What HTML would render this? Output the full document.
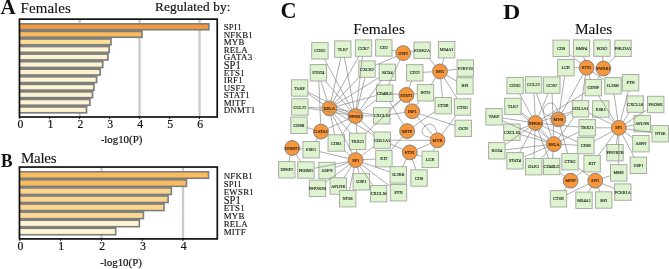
<!DOCTYPE html>
<html><head><meta charset="utf-8"><title>Figure</title>
<style>html,body{margin:0;padding:0;background:#fff}svg{display:block}</style></head>
<body><svg width="669" height="269" viewBox="0 0 669 269">
<rect width="669" height="269" fill="#fff"/>
<rect x="78.44" y="19.15" width="2.4" height="97.85" fill="#cbcbcb"/>
<rect x="138.38" y="19.15" width="2.4" height="97.85" fill="#cbcbcb"/>
<rect x="198.32" y="19.15" width="2.4" height="97.85" fill="#cbcbcb"/>
<rect x="19.45" y="23.00" width="190.21" height="7.55" fill="#7f7f7f"/>
<rect x="19.45" y="29.95" width="123.38" height="1.2" fill="#7f7f7f"/>
<rect x="19.45" y="30.55" width="123.38" height="7.55" fill="#7f7f7f"/>
<rect x="19.45" y="37.51" width="92.39" height="1.2" fill="#7f7f7f"/>
<rect x="19.45" y="38.11" width="92.39" height="7.55" fill="#7f7f7f"/>
<rect x="19.45" y="45.06" width="90.59" height="1.2" fill="#7f7f7f"/>
<rect x="19.45" y="45.66" width="90.59" height="7.55" fill="#7f7f7f"/>
<rect x="19.45" y="52.62" width="89.30" height="1.2" fill="#7f7f7f"/>
<rect x="19.45" y="53.22" width="89.30" height="7.55" fill="#7f7f7f"/>
<rect x="19.45" y="60.17" width="84.12" height="1.2" fill="#7f7f7f"/>
<rect x="19.45" y="60.77" width="84.12" height="7.55" fill="#7f7f7f"/>
<rect x="19.45" y="67.73" width="81.51" height="1.2" fill="#7f7f7f"/>
<rect x="19.45" y="68.33" width="81.51" height="7.55" fill="#7f7f7f"/>
<rect x="19.45" y="75.28" width="78.00" height="1.2" fill="#7f7f7f"/>
<rect x="19.45" y="75.88" width="78.00" height="7.55" fill="#7f7f7f"/>
<rect x="19.45" y="82.84" width="75.28" height="1.2" fill="#7f7f7f"/>
<rect x="19.45" y="83.44" width="75.28" height="7.55" fill="#7f7f7f"/>
<rect x="19.45" y="90.40" width="73.93" height="1.2" fill="#7f7f7f"/>
<rect x="19.45" y="91.00" width="73.93" height="7.55" fill="#7f7f7f"/>
<rect x="19.45" y="97.95" width="71.23" height="1.2" fill="#7f7f7f"/>
<rect x="19.45" y="98.55" width="71.23" height="7.55" fill="#7f7f7f"/>
<rect x="19.45" y="105.50" width="67.93" height="1.2" fill="#7f7f7f"/>
<rect x="19.45" y="106.10" width="67.93" height="7.55" fill="#7f7f7f"/>
<rect x="19.45" y="24.70" width="188.51" height="4.15" fill="#f7993b"/>
<rect x="19.45" y="32.26" width="121.68" height="4.15" fill="#fabb58"/>
<rect x="19.45" y="39.81" width="90.69" height="4.15" fill="#fcde93"/>
<rect x="19.45" y="47.37" width="88.89" height="4.15" fill="#fdf4d1"/>
<rect x="19.45" y="54.92" width="87.60" height="4.15" fill="#fdf4d1"/>
<rect x="19.45" y="62.48" width="82.42" height="4.15" fill="#fdf4d1"/>
<rect x="19.45" y="70.03" width="79.81" height="4.15" fill="#fdf4d1"/>
<rect x="19.45" y="77.58" width="76.30" height="4.15" fill="#fdf4d1"/>
<rect x="19.45" y="85.14" width="73.58" height="4.15" fill="#fdf4d1"/>
<rect x="19.45" y="92.70" width="72.23" height="4.15" fill="#fdf4d1"/>
<rect x="19.45" y="100.25" width="69.53" height="4.15" fill="#fdf4d1"/>
<rect x="19.45" y="107.80" width="66.23" height="4.15" fill="#fdf4d1"/>
<rect x="19.45" y="19.15" width="197.75" height="97.85" fill="none" stroke="#111" stroke-width="1.7"/>
<rect x="19.20" y="117.00" width="1" height="2" fill="#111"/>
<text x="20.40" y="127.80" font-size="11.8" text-anchor="middle" stroke="#111" stroke-width="0.2" font-family="Liberation Serif, serif" fill="#111">0</text>
<rect x="49.17" y="117.00" width="1" height="2" fill="#111"/>
<text x="50.37" y="127.80" font-size="11.8" text-anchor="middle" stroke="#111" stroke-width="0.2" font-family="Liberation Serif, serif" fill="#111">1</text>
<rect x="79.14" y="117.00" width="1" height="2" fill="#111"/>
<text x="80.34" y="127.80" font-size="11.8" text-anchor="middle" stroke="#111" stroke-width="0.2" font-family="Liberation Serif, serif" fill="#111">2</text>
<rect x="109.11" y="117.00" width="1" height="2" fill="#111"/>
<text x="110.31" y="127.80" font-size="11.8" text-anchor="middle" stroke="#111" stroke-width="0.2" font-family="Liberation Serif, serif" fill="#111">3</text>
<rect x="139.08" y="117.00" width="1" height="2" fill="#111"/>
<text x="140.28" y="127.80" font-size="11.8" text-anchor="middle" stroke="#111" stroke-width="0.2" font-family="Liberation Serif, serif" fill="#111">4</text>
<rect x="169.05" y="117.00" width="1" height="2" fill="#111"/>
<text x="170.25" y="127.80" font-size="11.8" text-anchor="middle" stroke="#111" stroke-width="0.2" font-family="Liberation Serif, serif" fill="#111">5</text>
<rect x="199.02" y="117.00" width="1" height="2" fill="#111"/>
<text x="200.22" y="127.80" font-size="11.8" text-anchor="middle" stroke="#111" stroke-width="0.2" font-family="Liberation Serif, serif" fill="#111">6</text>
<text x="223.70" y="30.20" font-size="8.9" letter-spacing="0.25" stroke="#111" stroke-width="0.12" font-family="Liberation Serif, serif" fill="#111">SPI1</text>
<text x="223.70" y="37.75" font-size="8.9" letter-spacing="0.25" stroke="#111" stroke-width="0.12" font-family="Liberation Serif, serif" fill="#111">NFKB1</text>
<text x="223.70" y="45.31" font-size="8.9" letter-spacing="0.25" stroke="#111" stroke-width="0.12" font-family="Liberation Serif, serif" fill="#111">MYB</text>
<text x="223.70" y="52.86" font-size="8.9" letter-spacing="0.25" stroke="#111" stroke-width="0.12" font-family="Liberation Serif, serif" fill="#111">RELA</text>
<text x="223.70" y="60.42" font-size="8.9" letter-spacing="0.25" stroke="#111" stroke-width="0.12" font-family="Liberation Serif, serif" fill="#111">GATA3</text>
<text transform="translate(223.70,68.77) scale(0.86,1)" font-size="12.3" stroke="#111" stroke-width="0.1" font-family="Liberation Serif, serif" fill="#111">SP1</text>
<text x="223.70" y="75.53" font-size="8.9" letter-spacing="0.25" stroke="#111" stroke-width="0.12" font-family="Liberation Serif, serif" fill="#111">ETS1</text>
<text x="223.70" y="83.08" font-size="8.9" letter-spacing="0.25" stroke="#111" stroke-width="0.12" font-family="Liberation Serif, serif" fill="#111">IRF1</text>
<text x="223.70" y="90.64" font-size="8.9" letter-spacing="0.25" stroke="#111" stroke-width="0.12" font-family="Liberation Serif, serif" fill="#111">USF2</text>
<text x="223.70" y="98.20" font-size="8.9" letter-spacing="0.25" stroke="#111" stroke-width="0.12" font-family="Liberation Serif, serif" fill="#111">STAT1</text>
<text x="223.70" y="105.75" font-size="8.9" letter-spacing="0.25" stroke="#111" stroke-width="0.12" font-family="Liberation Serif, serif" fill="#111">MITF</text>
<text x="223.70" y="113.30" font-size="8.9" letter-spacing="0.25" stroke="#111" stroke-width="0.12" font-family="Liberation Serif, serif" fill="#111">DNMT1</text>
<text x="121.50" y="143.30" font-size="10.9" text-anchor="middle" stroke="#111" stroke-width="0.2" font-family="Liberation Serif, serif" fill="#111">-log10(P)</text>
<rect x="100.20" y="167.05" width="2.4" height="71.85" fill="#cbcbcb"/>
<rect x="181.80" y="167.05" width="2.4" height="71.85" fill="#cbcbcb"/>
<rect x="19.45" y="171.00" width="189.85" height="8.07" fill="#7f7f7f"/>
<rect x="19.45" y="178.47" width="167.82" height="1.2" fill="#7f7f7f"/>
<rect x="19.45" y="179.07" width="167.82" height="8.07" fill="#7f7f7f"/>
<rect x="19.45" y="186.54" width="152.72" height="1.2" fill="#7f7f7f"/>
<rect x="19.45" y="187.14" width="152.72" height="8.07" fill="#7f7f7f"/>
<rect x="19.45" y="194.61" width="149.46" height="1.2" fill="#7f7f7f"/>
<rect x="19.45" y="195.21" width="149.46" height="8.07" fill="#7f7f7f"/>
<rect x="19.45" y="202.68" width="145.38" height="1.2" fill="#7f7f7f"/>
<rect x="19.45" y="203.28" width="145.38" height="8.07" fill="#7f7f7f"/>
<rect x="19.45" y="210.75" width="124.77" height="1.2" fill="#7f7f7f"/>
<rect x="19.45" y="211.35" width="124.77" height="8.07" fill="#7f7f7f"/>
<rect x="19.45" y="218.82" width="120.69" height="1.2" fill="#7f7f7f"/>
<rect x="19.45" y="219.42" width="120.69" height="8.07" fill="#7f7f7f"/>
<rect x="19.45" y="226.89" width="97.03" height="1.2" fill="#7f7f7f"/>
<rect x="19.45" y="227.49" width="97.03" height="8.07" fill="#7f7f7f"/>
<rect x="19.45" y="172.60" width="188.25" height="4.87" fill="#fbbb58"/>
<rect x="19.45" y="180.67" width="166.22" height="4.87" fill="#fbbd5f"/>
<rect x="19.45" y="188.74" width="151.12" height="4.87" fill="#fcd68b"/>
<rect x="19.45" y="196.81" width="147.86" height="4.87" fill="#fcd68b"/>
<rect x="19.45" y="204.88" width="143.78" height="4.87" fill="#fcd68b"/>
<rect x="19.45" y="212.95" width="123.17" height="4.87" fill="#fcd993"/>
<rect x="19.45" y="221.02" width="119.09" height="4.87" fill="#fdf4d1"/>
<rect x="19.45" y="229.09" width="95.43" height="4.87" fill="#fdf4d1"/>
<rect x="19.45" y="167.05" width="197.85" height="71.85" fill="none" stroke="#111" stroke-width="1.7"/>
<rect x="19.30" y="238.90" width="1" height="2" fill="#111"/>
<text x="20.50" y="249.90" font-size="11.8" text-anchor="middle" stroke="#111" stroke-width="0.2" font-family="Liberation Serif, serif" fill="#111">0</text>
<rect x="60.10" y="238.90" width="1" height="2" fill="#111"/>
<text x="61.30" y="249.90" font-size="11.8" text-anchor="middle" stroke="#111" stroke-width="0.2" font-family="Liberation Serif, serif" fill="#111">1</text>
<rect x="100.90" y="238.90" width="1" height="2" fill="#111"/>
<text x="102.10" y="249.90" font-size="11.8" text-anchor="middle" stroke="#111" stroke-width="0.2" font-family="Liberation Serif, serif" fill="#111">2</text>
<rect x="141.70" y="238.90" width="1" height="2" fill="#111"/>
<text x="142.90" y="249.90" font-size="11.8" text-anchor="middle" stroke="#111" stroke-width="0.2" font-family="Liberation Serif, serif" fill="#111">3</text>
<rect x="182.50" y="238.90" width="1" height="2" fill="#111"/>
<text x="183.70" y="249.90" font-size="11.8" text-anchor="middle" stroke="#111" stroke-width="0.2" font-family="Liberation Serif, serif" fill="#111">4</text>
<text x="223.70" y="178.60" font-size="8.9" letter-spacing="0.25" stroke="#111" stroke-width="0.12" font-family="Liberation Serif, serif" fill="#111">NFKB1</text>
<text x="223.70" y="186.67" font-size="8.9" letter-spacing="0.25" stroke="#111" stroke-width="0.12" font-family="Liberation Serif, serif" fill="#111">SPI1</text>
<text x="223.70" y="194.74" font-size="8.9" letter-spacing="0.25" stroke="#111" stroke-width="0.12" font-family="Liberation Serif, serif" fill="#111">EWSR1</text>
<text transform="translate(223.70,203.61) scale(0.86,1)" font-size="12.3" stroke="#111" stroke-width="0.1" font-family="Liberation Serif, serif" fill="#111">SP1</text>
<text x="223.70" y="210.88" font-size="8.9" letter-spacing="0.25" stroke="#111" stroke-width="0.12" font-family="Liberation Serif, serif" fill="#111">ETS1</text>
<text x="223.70" y="218.95" font-size="8.9" letter-spacing="0.25" stroke="#111" stroke-width="0.12" font-family="Liberation Serif, serif" fill="#111">MYB</text>
<text x="223.70" y="227.02" font-size="8.9" letter-spacing="0.25" stroke="#111" stroke-width="0.12" font-family="Liberation Serif, serif" fill="#111">RELA</text>
<text x="223.70" y="235.09" font-size="8.9" letter-spacing="0.25" stroke="#111" stroke-width="0.12" font-family="Liberation Serif, serif" fill="#111">MITF</text>
<text x="121.00" y="266.00" font-size="10.9" text-anchor="middle" stroke="#111" stroke-width="0.2" font-family="Liberation Serif, serif" fill="#111">-log10(P)</text>
<text x="0.6" y="14.2" font-size="21" font-weight="bold" font-family="Liberation Serif, serif" fill="#111">A</text>
<text x="20.6" y="12.8" font-size="15.0" letter-spacing="0.05" stroke="#111" stroke-width="0.1" font-family="Liberation Serif, serif" fill="#111">Females</text>
<text x="155.0" y="11.2" font-size="13.3" letter-spacing="0.1" stroke="#111" stroke-width="0.2" font-family="Liberation Serif, serif" fill="#111">Regulated by:</text>
<text transform="translate(1.0,166.8) scale(0.94,1)" font-size="18.4" font-weight="bold" font-family="Liberation Serif, serif" fill="#111">B</text>
<text x="20.9" y="162.5" font-size="15.0" letter-spacing="-0.25" stroke="#111" stroke-width="0.1" font-family="Liberation Serif, serif" fill="#111">Males</text>
<text transform="translate(280.5,17.8) scale(0.97,1)" font-size="23.0" font-weight="bold" font-family="Liberation Serif, serif" fill="#111">C</text>
<text transform="translate(502.9,18.9) scale(1.09,1)" font-size="22.0" font-weight="bold" font-family="Liberation Serif, serif" fill="#111">D</text>
<text x="353.3" y="33.5" font-size="15.4" letter-spacing="0.05" stroke="#111" stroke-width="0.1" font-family="Liberation Serif, serif" fill="#111">Females</text>
<text x="574.9" y="33.5" font-size="15.4" letter-spacing="-0.05" stroke="#111" stroke-width="0.1" font-family="Liberation Serif, serif" fill="#111">Males</text>
<rect x="311.70" y="42.60" width="16.40" height="16.40" fill="#ddf4cf" stroke="#a5a9a2" stroke-width="0.95"/>
<rect x="334.60" y="40.90" width="16.40" height="16.40" fill="#ddf4cf" stroke="#a5a9a2" stroke-width="0.95"/>
<rect x="355.30" y="39.90" width="16.40" height="16.40" fill="#ddf4cf" stroke="#a5a9a2" stroke-width="0.95"/>
<rect x="375.60" y="39.70" width="16.40" height="16.40" fill="#ddf4cf" stroke="#a5a9a2" stroke-width="0.95"/>
<rect x="413.90" y="42.10" width="16.40" height="16.40" fill="#ddf4cf" stroke="#a5a9a2" stroke-width="0.95"/>
<rect x="438.40" y="41.50" width="16.40" height="16.40" fill="#ddf4cf" stroke="#a5a9a2" stroke-width="0.95"/>
<rect x="457.10" y="59.90" width="16.40" height="16.40" fill="#ddf4cf" stroke="#a5a9a2" stroke-width="0.95"/>
<rect x="310.20" y="64.60" width="16.40" height="16.40" fill="#ddf4cf" stroke="#a5a9a2" stroke-width="0.95"/>
<rect x="358.80" y="60.90" width="16.40" height="16.40" fill="#ddf4cf" stroke="#a5a9a2" stroke-width="0.95"/>
<rect x="379.20" y="64.10" width="16.40" height="16.40" fill="#ddf4cf" stroke="#a5a9a2" stroke-width="0.95"/>
<rect x="406.60" y="64.60" width="16.40" height="16.40" fill="#ddf4cf" stroke="#a5a9a2" stroke-width="0.95"/>
<rect x="456.70" y="77.70" width="16.40" height="16.40" fill="#ddf4cf" stroke="#a5a9a2" stroke-width="0.95"/>
<rect x="291.40" y="79.80" width="16.40" height="16.40" fill="#ddf4cf" stroke="#a5a9a2" stroke-width="0.95"/>
<rect x="376.50" y="85.00" width="16.40" height="16.40" fill="#ddf4cf" stroke="#a5a9a2" stroke-width="0.95"/>
<rect x="417.30" y="84.60" width="16.40" height="16.40" fill="#ddf4cf" stroke="#a5a9a2" stroke-width="0.95"/>
<rect x="435.00" y="97.50" width="16.40" height="16.40" fill="#ddf4cf" stroke="#a5a9a2" stroke-width="0.95"/>
<rect x="454.30" y="98.80" width="16.40" height="16.40" fill="#ddf4cf" stroke="#a5a9a2" stroke-width="0.95"/>
<rect x="291.70" y="98.80" width="16.40" height="16.40" fill="#ddf4cf" stroke="#a5a9a2" stroke-width="0.95"/>
<rect x="373.60" y="107.60" width="16.40" height="16.40" fill="#ddf4cf" stroke="#a5a9a2" stroke-width="0.95"/>
<rect x="290.80" y="117.10" width="16.40" height="16.40" fill="#ddf4cf" stroke="#a5a9a2" stroke-width="0.95"/>
<rect x="455.00" y="120.20" width="16.40" height="16.40" fill="#ddf4cf" stroke="#a5a9a2" stroke-width="0.95"/>
<rect x="374.00" y="132.00" width="16.40" height="16.40" fill="#ddf4cf" stroke="#a5a9a2" stroke-width="0.95"/>
<rect x="349.40" y="133.20" width="16.40" height="16.40" fill="#ddf4cf" stroke="#a5a9a2" stroke-width="0.95"/>
<rect x="328.00" y="134.80" width="16.40" height="16.40" fill="#ddf4cf" stroke="#a5a9a2" stroke-width="0.95"/>
<rect x="302.90" y="141.50" width="16.40" height="16.40" fill="#ddf4cf" stroke="#a5a9a2" stroke-width="0.95"/>
<rect x="375.70" y="150.50" width="16.40" height="16.40" fill="#ddf4cf" stroke="#a5a9a2" stroke-width="0.95"/>
<rect x="422.10" y="151.20" width="16.40" height="16.40" fill="#ddf4cf" stroke="#a5a9a2" stroke-width="0.95"/>
<rect x="278.60" y="161.60" width="16.40" height="16.40" fill="#ddf4cf" stroke="#a5a9a2" stroke-width="0.95"/>
<rect x="297.70" y="161.80" width="16.40" height="16.40" fill="#ddf4cf" stroke="#a5a9a2" stroke-width="0.95"/>
<rect x="318.80" y="162.30" width="16.40" height="16.40" fill="#ddf4cf" stroke="#a5a9a2" stroke-width="0.95"/>
<rect x="390.10" y="166.70" width="16.40" height="16.40" fill="#ddf4cf" stroke="#a5a9a2" stroke-width="0.95"/>
<rect x="410.80" y="169.80" width="16.40" height="16.40" fill="#ddf4cf" stroke="#a5a9a2" stroke-width="0.95"/>
<rect x="353.10" y="173.60" width="16.40" height="16.40" fill="#ddf4cf" stroke="#a5a9a2" stroke-width="0.95"/>
<rect x="330.10" y="177.80" width="16.40" height="16.40" fill="#ddf4cf" stroke="#a5a9a2" stroke-width="0.95"/>
<rect x="309.30" y="180.10" width="16.40" height="16.40" fill="#ddf4cf" stroke="#a5a9a2" stroke-width="0.95"/>
<rect x="390.30" y="184.50" width="16.40" height="16.40" fill="#ddf4cf" stroke="#a5a9a2" stroke-width="0.95"/>
<rect x="370.40" y="185.50" width="16.40" height="16.40" fill="#ddf4cf" stroke="#a5a9a2" stroke-width="0.95"/>
<rect x="339.50" y="190.50" width="16.40" height="16.40" fill="#ddf4cf" stroke="#a5a9a2" stroke-width="0.95"/>
<circle cx="403.20" cy="53.10" r="7.40" fill="#f7963a" stroke="#878380" stroke-width="1.0"/>
<circle cx="440.00" cy="71.40" r="7.40" fill="#f7963a" stroke="#878380" stroke-width="1.0"/>
<circle cx="406.40" cy="95.00" r="7.40" fill="#f7963a" stroke="#878380" stroke-width="1.0"/>
<circle cx="329.40" cy="108.30" r="7.40" fill="#f7963a" stroke="#878380" stroke-width="1.0"/>
<circle cx="355.50" cy="116.00" r="7.40" fill="#f7963a" stroke="#878380" stroke-width="1.0"/>
<circle cx="412.20" cy="111.30" r="7.40" fill="#f7963a" stroke="#878380" stroke-width="1.0"/>
<circle cx="321.00" cy="131.60" r="7.40" fill="#f7963a" stroke="#878380" stroke-width="1.0"/>
<circle cx="407.10" cy="131.10" r="7.40" fill="#f7963a" stroke="#878380" stroke-width="1.0"/>
<circle cx="437.50" cy="140.40" r="7.40" fill="#f7963a" stroke="#878380" stroke-width="1.0"/>
<circle cx="292.20" cy="148.00" r="7.40" fill="#f7963a" stroke="#878380" stroke-width="1.0"/>
<circle cx="409.80" cy="152.40" r="7.40" fill="#f7963a" stroke="#878380" stroke-width="1.0"/>
<circle cx="355.60" cy="160.10" r="7.40" fill="#f7963a" stroke="#878380" stroke-width="1.0"/>
<path d="M322.1 108.0L308.2 107.4M323.4 104.2L307.9 93.7M327.2 101.3L321.0 81.1M331.0 101.2L340.9 57.4M333.0 101.9L358.8 56.4M334.5 103.0L359.0 77.4M335.6 104.5L379.1 77.5M336.4 106.4L376.4 95.5M336.6 109.3L373.5 114.6M330.8 115.5L334.6 134.7M334.1 113.9L350.5 133.1M335.6 112.1L373.9 135.2M332.7 114.8L352.3 153.6M336.4 110.4L348.5 113.9M348.3 114.8L308.2 108.3M349.0 112.7L307.9 92.2M350.7 110.5L325.5 81.1M352.0 109.6L324.4 59.1M354.1 108.8L344.4 57.4M356.4 108.8L362.5 56.4M357.2 108.9L365.0 77.4M359.8 110.1L381.3 80.6M361.3 111.5L376.4 99.7M362.8 115.9L373.5 115.9M351.3 121.9L342.1 134.7M356.1 123.3L356.9 133.1M360.9 120.9L373.9 132.7M348.8 119.0L327.7 128.6M320.7 124.3L318.8 81.1M314.0 129.6L307.3 127.7M317.5 138.0L315.6 141.4M299.5 148.7L302.8 149.0M290.4 155.1L288.9 161.5M296.1 154.2L300.7 161.7M348.5 158.4L319.4 151.6M350.1 155.3L344.5 150.3M356.4 152.8L356.7 149.7M348.4 161.5L314.2 168.3M348.7 162.6L335.3 167.5M349.7 164.4L325.8 182.2M351.5 166.2L343.8 177.7M354.1 167.3L349.4 190.4M357.5 167.2L359.1 173.5M359.7 166.1L372.9 185.4M361.4 164.5L390.2 186.4M362.5 162.5L390.0 172.0M362.9 159.7L375.6 159.1M361.4 155.7L373.9 146.4M435.3 65.8L429.1 58.6M442.1 64.4L444.1 58.0M447.2 70.5L457.0 69.2M432.7 71.8L423.1 72.3M446.3 75.1L456.6 81.1M443.9 77.6L457.3 98.7M440.7 78.7L442.4 97.4M435.9 77.4L431.1 84.5M409.0 88.2L411.7 81.1M413.7 94.2L417.2 93.8M399.1 94.4L393.0 93.9M400.8 99.7L390.1 108.8M401.1 100.0L365.9 133.5M408.8 101.9L409.8 104.4M416.5 105.4L419.5 101.1M405.0 112.4L390.1 114.6M419.1 113.6L454.9 125.6M417.0 116.8L432.7 134.9M413.1 126.9L434.9 111.5M402.4 136.7L390.9 150.4M403.4 124.8L389.6 101.5M441.9 134.6L456.3 115.3M430.2 140.4L390.5 140.2M430.8 143.3L416.5 149.5M434.9 147.2L433.4 151.1M416.7 154.8L422.0 156.6M403.1 149.4L390.5 143.9M406.5 158.9L402.5 166.6M412.3 159.3L416.0 169.7M396.1 51.2L392.1 50.1M410.4 52.0L413.8 51.5M396.5 56.1L375.3 65.4M400.1 59.7L388.5 84.9M430.9 137.4C409.5 135.4 433.5 111.4 436.7 133.1" fill="none" stroke="#8e8e8e" stroke-width="0.9" stroke-opacity="0.82"/>
<text x="319.90" y="52.30" font-size="4.3" text-anchor="middle" stroke="#111" stroke-width="0.1" font-family="Liberation Serif, serif" fill="#111">CD3G</text>
<text x="342.80" y="50.60" font-size="4.3" text-anchor="middle" stroke="#111" stroke-width="0.1" font-family="Liberation Serif, serif" fill="#111">TLR7</text>
<text x="363.50" y="49.60" font-size="4.3" text-anchor="middle" stroke="#111" stroke-width="0.1" font-family="Liberation Serif, serif" fill="#111">CCR7</text>
<text x="383.80" y="49.40" font-size="4.3" text-anchor="middle" stroke="#111" stroke-width="0.1" font-family="Liberation Serif, serif" fill="#111">CD2</text>
<text x="422.10" y="51.80" font-size="4.3" text-anchor="middle" stroke="#111" stroke-width="0.1" font-family="Liberation Serif, serif" fill="#111">FCER1A</text>
<text x="446.60" y="51.20" font-size="4.3" text-anchor="middle" stroke="#111" stroke-width="0.1" font-family="Liberation Serif, serif" fill="#111">MS4A1</text>
<text x="465.30" y="69.60" font-size="4.3" text-anchor="middle" stroke="#111" stroke-width="0.1" font-family="Liberation Serif, serif" fill="#111">P2RY10</text>
<text x="318.40" y="74.30" font-size="4.3" text-anchor="middle" stroke="#111" stroke-width="0.1" font-family="Liberation Serif, serif" fill="#111">STAT4</text>
<text x="367.00" y="70.60" font-size="4.3" text-anchor="middle" stroke="#111" stroke-width="0.1" font-family="Liberation Serif, serif" fill="#111">CXCR2</text>
<text x="387.40" y="73.80" font-size="4.3" text-anchor="middle" stroke="#111" stroke-width="0.1" font-family="Liberation Serif, serif" fill="#111">RGS4</text>
<text x="414.80" y="74.30" font-size="4.3" text-anchor="middle" stroke="#111" stroke-width="0.1" font-family="Liberation Serif, serif" fill="#111">CD22</text>
<text x="464.90" y="87.40" font-size="4.3" text-anchor="middle" stroke="#111" stroke-width="0.1" font-family="Liberation Serif, serif" fill="#111">BPI</text>
<text x="299.60" y="89.50" font-size="4.3" text-anchor="middle" stroke="#111" stroke-width="0.1" font-family="Liberation Serif, serif" fill="#111">TARP</text>
<text x="384.70" y="94.70" font-size="4.3" text-anchor="middle" stroke="#111" stroke-width="0.1" font-family="Liberation Serif, serif" fill="#111">CD40LG</text>
<text x="425.50" y="94.30" font-size="4.3" text-anchor="middle" stroke="#111" stroke-width="0.1" font-family="Liberation Serif, serif" fill="#111">IFIT3</text>
<text x="443.20" y="107.20" font-size="4.3" text-anchor="middle" stroke="#111" stroke-width="0.1" font-family="Liberation Serif, serif" fill="#111">CTSK</text>
<text x="462.50" y="108.50" font-size="4.3" text-anchor="middle" stroke="#111" stroke-width="0.1" font-family="Liberation Serif, serif" fill="#111">CTSG</text>
<text x="299.90" y="108.50" font-size="4.3" text-anchor="middle" stroke="#111" stroke-width="0.1" font-family="Liberation Serif, serif" fill="#111">CCL22</text>
<text x="381.80" y="117.30" font-size="4.3" text-anchor="middle" stroke="#111" stroke-width="0.1" font-family="Liberation Serif, serif" fill="#111">CXCL10</text>
<text x="299.00" y="126.80" font-size="4.3" text-anchor="middle" stroke="#111" stroke-width="0.1" font-family="Liberation Serif, serif" fill="#111">CD8B</text>
<text x="463.20" y="129.90" font-size="4.3" text-anchor="middle" stroke="#111" stroke-width="0.1" font-family="Liberation Serif, serif" fill="#111">OGN</text>
<text x="382.20" y="141.70" font-size="4.3" text-anchor="middle" stroke="#111" stroke-width="0.1" font-family="Liberation Serif, serif" fill="#111">COL1A1</text>
<text x="357.60" y="142.90" font-size="4.3" text-anchor="middle" stroke="#111" stroke-width="0.1" font-family="Liberation Serif, serif" fill="#111">TBX21</text>
<text x="336.20" y="144.50" font-size="4.3" text-anchor="middle" stroke="#111" stroke-width="0.1" font-family="Liberation Serif, serif" fill="#111">CD83</text>
<text x="311.10" y="151.20" font-size="4.3" text-anchor="middle" stroke="#111" stroke-width="0.1" font-family="Liberation Serif, serif" fill="#111">ESR1</text>
<text x="383.90" y="160.20" font-size="4.3" text-anchor="middle" stroke="#111" stroke-width="0.1" font-family="Liberation Serif, serif" fill="#111">KIT</text>
<text x="430.30" y="160.90" font-size="4.3" text-anchor="middle" stroke="#111" stroke-width="0.1" font-family="Liberation Serif, serif" fill="#111">LCK</text>
<text x="286.80" y="171.30" font-size="4.3" text-anchor="middle" stroke="#111" stroke-width="0.1" font-family="Liberation Serif, serif" fill="#111">DPEP2</text>
<text x="305.90" y="171.50" font-size="4.3" text-anchor="middle" stroke="#111" stroke-width="0.1" font-family="Liberation Serif, serif" fill="#111">PROM1</text>
<text x="327.00" y="172.00" font-size="4.3" text-anchor="middle" stroke="#111" stroke-width="0.1" font-family="Liberation Serif, serif" fill="#111">ASPN</text>
<text x="398.30" y="176.40" font-size="4.3" text-anchor="middle" stroke="#111" stroke-width="0.1" font-family="Liberation Serif, serif" fill="#111">IL2RB</text>
<text x="419.00" y="179.50" font-size="4.3" text-anchor="middle" stroke="#111" stroke-width="0.1" font-family="Liberation Serif, serif" fill="#111">CD6</text>
<text x="361.30" y="183.30" font-size="4.3" text-anchor="middle" stroke="#111" stroke-width="0.1" font-family="Liberation Serif, serif" fill="#111">USP1</text>
<text x="338.30" y="187.50" font-size="4.3" text-anchor="middle" stroke="#111" stroke-width="0.1" font-family="Liberation Serif, serif" fill="#111">APLNR</text>
<text x="317.50" y="189.80" font-size="4.3" text-anchor="middle" stroke="#111" stroke-width="0.1" font-family="Liberation Serif, serif" fill="#111">PPP2R2B</text>
<text x="398.50" y="194.20" font-size="4.3" text-anchor="middle" stroke="#111" stroke-width="0.1" font-family="Liberation Serif, serif" fill="#111">PTN</text>
<text x="378.60" y="195.20" font-size="4.3" text-anchor="middle" stroke="#111" stroke-width="0.1" font-family="Liberation Serif, serif" fill="#111">CXCL16</text>
<text x="347.70" y="200.20" font-size="4.3" text-anchor="middle" stroke="#111" stroke-width="0.1" font-family="Liberation Serif, serif" fill="#111">NT5E</text>
<text x="403.20" y="54.60" font-size="4.3" text-anchor="middle" stroke="#111" stroke-width="0.1" font-family="Liberation Serif, serif" fill="#111">USF2</text>
<text x="440.00" y="72.90" font-size="4.3" text-anchor="middle" stroke="#111" stroke-width="0.1" font-family="Liberation Serif, serif" fill="#111">SPI1</text>
<text x="406.40" y="96.50" font-size="4.3" text-anchor="middle" stroke="#111" stroke-width="0.1" font-family="Liberation Serif, serif" fill="#111">STAT1</text>
<text x="329.40" y="109.80" font-size="4.3" text-anchor="middle" stroke="#111" stroke-width="0.1" font-family="Liberation Serif, serif" fill="#111">RELA</text>
<text x="355.50" y="117.50" font-size="4.3" text-anchor="middle" stroke="#111" stroke-width="0.1" font-family="Liberation Serif, serif" fill="#111">NFKB1</text>
<text x="412.20" y="112.80" font-size="4.3" text-anchor="middle" stroke="#111" stroke-width="0.1" font-family="Liberation Serif, serif" fill="#111">IRF1</text>
<text x="321.00" y="133.10" font-size="4.3" text-anchor="middle" stroke="#111" stroke-width="0.1" font-family="Liberation Serif, serif" fill="#111">GATA3</text>
<text x="407.10" y="132.60" font-size="4.3" text-anchor="middle" stroke="#111" stroke-width="0.1" font-family="Liberation Serif, serif" fill="#111">MITF</text>
<text x="437.50" y="141.90" font-size="4.3" text-anchor="middle" stroke="#111" stroke-width="0.1" font-family="Liberation Serif, serif" fill="#111">MYB</text>
<text x="292.20" y="149.50" font-size="4.3" text-anchor="middle" stroke="#111" stroke-width="0.1" font-family="Liberation Serif, serif" fill="#111">DNMT1</text>
<text x="409.80" y="153.90" font-size="4.3" text-anchor="middle" stroke="#111" stroke-width="0.1" font-family="Liberation Serif, serif" fill="#111">ETS1</text>
<text x="355.60" y="161.60" font-size="4.3" text-anchor="middle" stroke="#111" stroke-width="0.1" font-family="Liberation Serif, serif" fill="#111">SP1</text>
<rect x="553.00" y="40.10" width="16.40" height="16.40" fill="#ddf4cf" stroke="#a5a9a2" stroke-width="0.95"/>
<rect x="573.30" y="39.90" width="16.40" height="16.40" fill="#ddf4cf" stroke="#a5a9a2" stroke-width="0.95"/>
<rect x="593.80" y="39.90" width="16.40" height="16.40" fill="#ddf4cf" stroke="#a5a9a2" stroke-width="0.95"/>
<rect x="614.80" y="40.20" width="16.40" height="16.40" fill="#ddf4cf" stroke="#a5a9a2" stroke-width="0.95"/>
<rect x="557.70" y="59.50" width="16.40" height="16.40" fill="#ddf4cf" stroke="#a5a9a2" stroke-width="0.95"/>
<rect x="506.90" y="77.40" width="16.40" height="16.40" fill="#ddf4cf" stroke="#a5a9a2" stroke-width="0.95"/>
<rect x="525.40" y="76.70" width="16.40" height="16.40" fill="#ddf4cf" stroke="#a5a9a2" stroke-width="0.95"/>
<rect x="543.60" y="76.90" width="16.40" height="16.40" fill="#ddf4cf" stroke="#a5a9a2" stroke-width="0.95"/>
<rect x="585.10" y="79.40" width="16.40" height="16.40" fill="#ddf4cf" stroke="#a5a9a2" stroke-width="0.95"/>
<rect x="604.80" y="77.60" width="16.40" height="16.40" fill="#ddf4cf" stroke="#a5a9a2" stroke-width="0.95"/>
<rect x="622.40" y="74.50" width="16.40" height="16.40" fill="#ddf4cf" stroke="#a5a9a2" stroke-width="0.95"/>
<rect x="504.70" y="98.20" width="16.40" height="16.40" fill="#ddf4cf" stroke="#a5a9a2" stroke-width="0.95"/>
<rect x="485.80" y="108.60" width="16.40" height="16.40" fill="#ddf4cf" stroke="#a5a9a2" stroke-width="0.95"/>
<rect x="572.30" y="100.60" width="16.40" height="16.40" fill="#ddf4cf" stroke="#a5a9a2" stroke-width="0.95"/>
<rect x="592.60" y="100.80" width="16.40" height="16.40" fill="#ddf4cf" stroke="#a5a9a2" stroke-width="0.95"/>
<rect x="627.00" y="95.90" width="16.40" height="16.40" fill="#ddf4cf" stroke="#a5a9a2" stroke-width="0.95"/>
<rect x="647.50" y="96.30" width="16.40" height="16.40" fill="#ddf4cf" stroke="#a5a9a2" stroke-width="0.95"/>
<rect x="503.70" y="124.00" width="16.40" height="16.40" fill="#ddf4cf" stroke="#a5a9a2" stroke-width="0.95"/>
<rect x="579.00" y="119.60" width="16.40" height="16.40" fill="#ddf4cf" stroke="#a5a9a2" stroke-width="0.95"/>
<rect x="634.00" y="115.40" width="16.40" height="16.40" fill="#ddf4cf" stroke="#a5a9a2" stroke-width="0.95"/>
<rect x="652.00" y="125.50" width="16.40" height="16.40" fill="#ddf4cf" stroke="#a5a9a2" stroke-width="0.95"/>
<rect x="488.60" y="142.60" width="16.40" height="16.40" fill="#ddf4cf" stroke="#a5a9a2" stroke-width="0.95"/>
<rect x="577.70" y="137.40" width="16.40" height="16.40" fill="#ddf4cf" stroke="#a5a9a2" stroke-width="0.95"/>
<rect x="632.70" y="135.50" width="16.40" height="16.40" fill="#ddf4cf" stroke="#a5a9a2" stroke-width="0.95"/>
<rect x="606.80" y="144.50" width="16.40" height="16.40" fill="#ddf4cf" stroke="#a5a9a2" stroke-width="0.95"/>
<rect x="506.80" y="152.60" width="16.40" height="16.40" fill="#ddf4cf" stroke="#a5a9a2" stroke-width="0.95"/>
<rect x="525.50" y="158.50" width="16.40" height="16.40" fill="#ddf4cf" stroke="#a5a9a2" stroke-width="0.95"/>
<rect x="543.40" y="158.30" width="16.40" height="16.40" fill="#ddf4cf" stroke="#a5a9a2" stroke-width="0.95"/>
<rect x="561.80" y="153.50" width="16.40" height="16.40" fill="#ddf4cf" stroke="#a5a9a2" stroke-width="0.95"/>
<rect x="583.90" y="155.50" width="16.40" height="16.40" fill="#ddf4cf" stroke="#a5a9a2" stroke-width="0.95"/>
<rect x="630.20" y="157.10" width="16.40" height="16.40" fill="#ddf4cf" stroke="#a5a9a2" stroke-width="0.95"/>
<rect x="610.50" y="164.70" width="16.40" height="16.40" fill="#ddf4cf" stroke="#a5a9a2" stroke-width="0.95"/>
<rect x="614.60" y="183.90" width="16.40" height="16.40" fill="#ddf4cf" stroke="#a5a9a2" stroke-width="0.95"/>
<rect x="550.30" y="190.60" width="16.40" height="16.40" fill="#ddf4cf" stroke="#a5a9a2" stroke-width="0.95"/>
<rect x="575.80" y="192.10" width="16.40" height="16.40" fill="#ddf4cf" stroke="#a5a9a2" stroke-width="0.95"/>
<rect x="595.50" y="191.80" width="16.40" height="16.40" fill="#ddf4cf" stroke="#a5a9a2" stroke-width="0.95"/>
<circle cx="586.60" cy="67.70" r="7.40" fill="#f7963a" stroke="#878380" stroke-width="1.0"/>
<circle cx="603.40" cy="68.50" r="7.40" fill="#f7963a" stroke="#878380" stroke-width="1.0"/>
<circle cx="535.40" cy="123.00" r="7.40" fill="#f7963a" stroke="#878380" stroke-width="1.0"/>
<circle cx="558.30" cy="119.40" r="7.40" fill="#f7963a" stroke="#878380" stroke-width="1.0"/>
<circle cx="554.00" cy="144.10" r="7.40" fill="#f7963a" stroke="#878380" stroke-width="1.0"/>
<circle cx="618.80" cy="127.80" r="7.40" fill="#f7963a" stroke="#878380" stroke-width="1.0"/>
<circle cx="570.60" cy="180.70" r="7.40" fill="#f7963a" stroke="#878380" stroke-width="1.0"/>
<circle cx="595.20" cy="180.70" r="7.40" fill="#f7963a" stroke="#878380" stroke-width="1.0"/>
<path d="M531.9 116.6L519.6 93.9M535.1 115.7L534.0 93.2M538.3 116.3L548.2 93.4M529.5 118.7L521.2 112.5M528.2 121.9L502.3 118.0M528.6 125.7L520.2 129.0M529.5 127.3L505.1 144.8M531.9 129.4L519.5 152.5M535.1 130.3L534.0 158.4M537.9 129.8L548.5 158.2M542.1 126.0L577.6 141.9M542.7 123.7L578.9 127.0M542.4 120.8L572.2 111.4M541.6 119.2L585.0 92.7M540.2 128.5L549.2 138.6M551.6 137.2L536.5 93.2M553.7 136.8L552.1 93.4M548.6 139.2L521.2 114.0M547.4 141.1L502.3 120.6M547.0 142.1L520.2 134.5M546.7 144.9L505.1 149.8M547.3 147.0L523.3 157.2M549.1 149.5L541.2 158.4M553.2 151.4L552.5 158.2M561.3 144.4L577.6 145.2M560.6 140.9L578.9 131.9M558.4 138.3L574.3 117.1M561.8 113.0L583.1 74.1M559.4 112.2L564.7 76.0M564.9 116.3L572.2 112.8M560.2 126.4L567.7 153.4M579.3 67.7L574.2 67.7M580.8 63.3L569.5 54.6M584.8 60.6L583.7 56.4M592.6 71.8L604.7 80.1M585.5 74.9L581.7 100.5M588.9 74.6L590.5 79.3M602.9 61.2L602.6 56.4M608.5 63.3L614.9 56.7M600.0 75.0L597.7 79.3M614.9 121.6L598.6 95.9M617.8 120.6L614.1 94.1M620.6 120.7L628.4 91.0M623.0 121.8L629.5 112.4M625.0 123.9L647.4 109.7M626.0 126.5L633.9 125.1M626.0 128.8L651.9 132.5M624.7 132.1L632.6 137.7M622.2 134.3L634.1 157.0M618.8 135.1L618.7 164.6M617.7 135.0L616.3 144.4M614.4 133.7L598.3 155.4M612.4 131.3L594.2 141.1M611.5 127.8L595.5 127.8M613.8 122.5L608.7 117.3M612.3 124.6L588.8 112.9M576.3 176.2L583.8 170.3M566.5 186.8L564.0 190.5M564.8 176.3L559.9 172.7M589.4 176.3L578.3 168.0M588.7 183.9L566.8 194.7M591.6 187.0L588.7 192.0M598.1 187.4L600.0 191.7M601.9 183.5L614.5 188.7M602.1 178.4L610.4 175.7M551.7 116.4C531.3 114.4 554.3 90.4 557.5 112.1" fill="none" stroke="#8e8e8e" stroke-width="0.9" stroke-opacity="0.82"/>
<text x="561.20" y="49.80" font-size="4.3" text-anchor="middle" stroke="#111" stroke-width="0.1" font-family="Liberation Serif, serif" fill="#111">CD6</text>
<text x="581.50" y="49.60" font-size="4.3" text-anchor="middle" stroke="#111" stroke-width="0.1" font-family="Liberation Serif, serif" fill="#111">BMP4</text>
<text x="602.00" y="49.60" font-size="4.3" text-anchor="middle" stroke="#111" stroke-width="0.1" font-family="Liberation Serif, serif" fill="#111">EGR2</text>
<text x="623.00" y="49.90" font-size="4.3" text-anchor="middle" stroke="#111" stroke-width="0.1" font-family="Liberation Serif, serif" fill="#111">PHLDA1</text>
<text x="565.90" y="69.20" font-size="4.3" text-anchor="middle" stroke="#111" stroke-width="0.1" font-family="Liberation Serif, serif" fill="#111">LCK</text>
<text x="515.10" y="87.10" font-size="4.3" text-anchor="middle" stroke="#111" stroke-width="0.1" font-family="Liberation Serif, serif" fill="#111">CD3G</text>
<text x="533.60" y="86.40" font-size="4.3" text-anchor="middle" stroke="#111" stroke-width="0.1" font-family="Liberation Serif, serif" fill="#111">CCL22</text>
<text x="551.80" y="86.60" font-size="4.3" text-anchor="middle" stroke="#111" stroke-width="0.1" font-family="Liberation Serif, serif" fill="#111">CCR7</text>
<text x="593.30" y="89.10" font-size="4.3" text-anchor="middle" stroke="#111" stroke-width="0.1" font-family="Liberation Serif, serif" fill="#111">GDNF</text>
<text x="613.00" y="87.30" font-size="4.3" text-anchor="middle" stroke="#111" stroke-width="0.1" font-family="Liberation Serif, serif" fill="#111">IL2RB</text>
<text x="630.60" y="84.20" font-size="4.3" text-anchor="middle" stroke="#111" stroke-width="0.1" font-family="Liberation Serif, serif" fill="#111">PTN</text>
<text x="512.90" y="107.90" font-size="4.3" text-anchor="middle" stroke="#111" stroke-width="0.1" font-family="Liberation Serif, serif" fill="#111">TLR7</text>
<text x="494.00" y="118.30" font-size="4.3" text-anchor="middle" stroke="#111" stroke-width="0.1" font-family="Liberation Serif, serif" fill="#111">TARP</text>
<text x="580.50" y="110.30" font-size="4.3" text-anchor="middle" stroke="#111" stroke-width="0.1" font-family="Liberation Serif, serif" fill="#111">COL1A1</text>
<text x="600.80" y="110.50" font-size="4.3" text-anchor="middle" stroke="#111" stroke-width="0.1" font-family="Liberation Serif, serif" fill="#111">ESR1</text>
<text x="635.20" y="105.60" font-size="4.3" text-anchor="middle" stroke="#111" stroke-width="0.1" font-family="Liberation Serif, serif" fill="#111">CXCL16</text>
<text x="655.70" y="106.00" font-size="4.3" text-anchor="middle" stroke="#111" stroke-width="0.1" font-family="Liberation Serif, serif" fill="#111">PROM1</text>
<text x="511.90" y="133.70" font-size="4.3" text-anchor="middle" stroke="#111" stroke-width="0.1" font-family="Liberation Serif, serif" fill="#111">CXCL10</text>
<text x="587.20" y="129.30" font-size="4.3" text-anchor="middle" stroke="#111" stroke-width="0.1" font-family="Liberation Serif, serif" fill="#111">TBX21</text>
<text x="642.20" y="125.10" font-size="4.3" text-anchor="middle" stroke="#111" stroke-width="0.1" font-family="Liberation Serif, serif" fill="#111">APLNR</text>
<text x="660.20" y="135.20" font-size="4.3" text-anchor="middle" stroke="#111" stroke-width="0.1" font-family="Liberation Serif, serif" fill="#111">NT5E</text>
<text x="496.80" y="152.30" font-size="4.3" text-anchor="middle" stroke="#111" stroke-width="0.1" font-family="Liberation Serif, serif" fill="#111">RGS4</text>
<text x="585.90" y="147.10" font-size="4.3" text-anchor="middle" stroke="#111" stroke-width="0.1" font-family="Liberation Serif, serif" fill="#111">CD83</text>
<text x="640.90" y="145.20" font-size="4.3" text-anchor="middle" stroke="#111" stroke-width="0.1" font-family="Liberation Serif, serif" fill="#111">ASPN</text>
<text x="615.00" y="154.20" font-size="4.3" text-anchor="middle" stroke="#111" stroke-width="0.1" font-family="Liberation Serif, serif" fill="#111">PPP2R2B</text>
<text x="515.00" y="162.30" font-size="4.3" text-anchor="middle" stroke="#111" stroke-width="0.1" font-family="Liberation Serif, serif" fill="#111">STAT4</text>
<text x="533.70" y="168.20" font-size="4.3" text-anchor="middle" stroke="#111" stroke-width="0.1" font-family="Liberation Serif, serif" fill="#111">OLR1</text>
<text x="551.60" y="168.00" font-size="4.3" text-anchor="middle" stroke="#111" stroke-width="0.1" font-family="Liberation Serif, serif" fill="#111">CD40LG</text>
<text x="570.00" y="163.20" font-size="4.3" text-anchor="middle" stroke="#111" stroke-width="0.1" font-family="Liberation Serif, serif" fill="#111">CTSG</text>
<text x="592.10" y="165.20" font-size="4.3" text-anchor="middle" stroke="#111" stroke-width="0.1" font-family="Liberation Serif, serif" fill="#111">KIT</text>
<text x="638.40" y="166.80" font-size="4.3" text-anchor="middle" stroke="#111" stroke-width="0.1" font-family="Liberation Serif, serif" fill="#111">USP1</text>
<text x="618.70" y="174.40" font-size="4.3" text-anchor="middle" stroke="#111" stroke-width="0.1" font-family="Liberation Serif, serif" fill="#111">MME</text>
<text x="622.80" y="193.60" font-size="4.3" text-anchor="middle" stroke="#111" stroke-width="0.1" font-family="Liberation Serif, serif" fill="#111">FCER1A</text>
<text x="558.50" y="200.30" font-size="4.3" text-anchor="middle" stroke="#111" stroke-width="0.1" font-family="Liberation Serif, serif" fill="#111">CTSK</text>
<text x="584.00" y="201.80" font-size="4.3" text-anchor="middle" stroke="#111" stroke-width="0.1" font-family="Liberation Serif, serif" fill="#111">MS4A1</text>
<text x="603.70" y="201.50" font-size="4.3" text-anchor="middle" stroke="#111" stroke-width="0.1" font-family="Liberation Serif, serif" fill="#111">BPI</text>
<text x="586.60" y="69.20" font-size="4.3" text-anchor="middle" stroke="#111" stroke-width="0.1" font-family="Liberation Serif, serif" fill="#111">ETS1</text>
<text x="603.40" y="70.00" font-size="4.3" text-anchor="middle" stroke="#111" stroke-width="0.1" font-family="Liberation Serif, serif" fill="#111">EWSR1</text>
<text x="535.40" y="124.50" font-size="4.3" text-anchor="middle" stroke="#111" stroke-width="0.1" font-family="Liberation Serif, serif" fill="#111">NFKB1</text>
<text x="558.30" y="120.90" font-size="4.3" text-anchor="middle" stroke="#111" stroke-width="0.1" font-family="Liberation Serif, serif" fill="#111">MYB</text>
<text x="554.00" y="145.60" font-size="4.3" text-anchor="middle" stroke="#111" stroke-width="0.1" font-family="Liberation Serif, serif" fill="#111">RELA</text>
<text x="618.80" y="129.30" font-size="4.3" text-anchor="middle" stroke="#111" stroke-width="0.1" font-family="Liberation Serif, serif" fill="#111">SP1</text>
<text x="570.60" y="182.20" font-size="4.3" text-anchor="middle" stroke="#111" stroke-width="0.1" font-family="Liberation Serif, serif" fill="#111">MITF</text>
<text x="595.20" y="182.20" font-size="4.3" text-anchor="middle" stroke="#111" stroke-width="0.1" font-family="Liberation Serif, serif" fill="#111">SPI1</text>
</svg></body></html>
